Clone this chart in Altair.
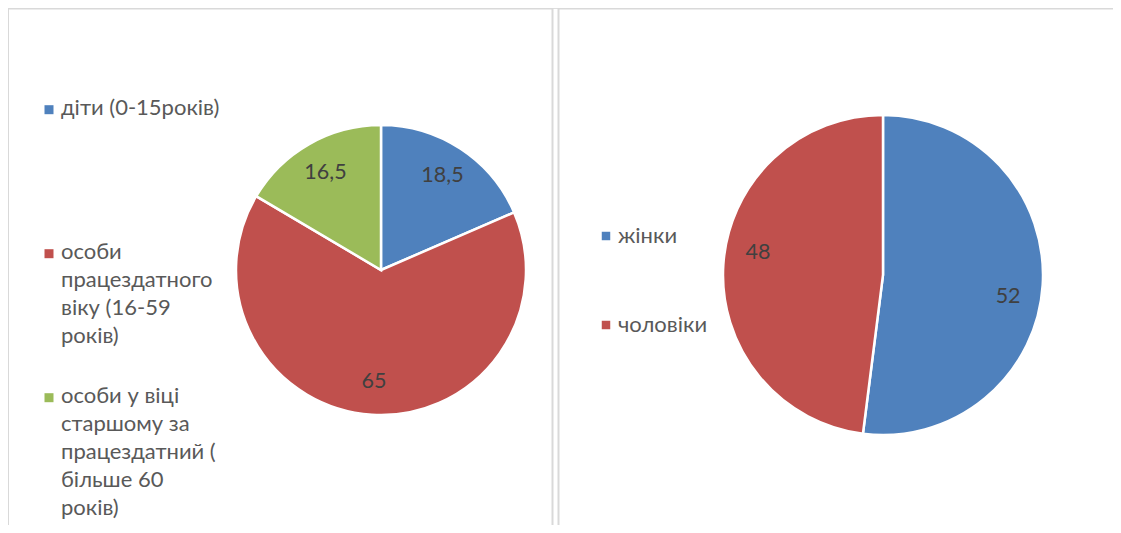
import altair as alt
import pandas as pd

# ---- data ----
age_groups = [
    "діти (0-15років)",
    "особи\nпрацездатного\nвіку (16-59\nроків)",
    "особи у віці\nстаршому за\nпрацездатний (\nбільше 60\nроків)",
]
age_values = [18.5, 65, 16.5]
age_colors = ["#4F81BD", "#C0504D", "#9BBB59"]

sex_groups = ["жінки", "чоловіки"]
sex_values = [52, 48]
sex_colors = ["#4F81BD", "#C0504D"]

FONT = "Lato"
LABEL_COLOR = "#595959"
VALUE_COLOR = "#404040"


def fmt(v):
    s = ("%g" % v)
    return s.replace(".", ",")


df_age = pd.DataFrame({
    "group": age_groups,
    "value": age_values,
    "idx": list(range(len(age_groups))),
    "label": [fmt(v) for v in age_values],
})
df_sex = pd.DataFrame({
    "group": sex_groups,
    "value": sex_values,
    "idx": list(range(len(sex_groups))),
    "label": [fmt(v) for v in sex_values],
})

frame_df = pd.DataFrame({"k": [0]})
frame_left = alt.Chart(frame_df).mark_rect(
    fillOpacity=0, stroke="#D9D9D9", strokeWidth=2
).encode(x=alt.value(0), x2=alt.value(544.5), y=alt.value(0.5), y2=alt.value(700))
frame_right = alt.Chart(frame_df).mark_rect(
    fillOpacity=0, stroke="#D9D9D9", strokeWidth=2
).encode(x=alt.value(550.5), x2=alt.value(1300), y=alt.value(0.5), y2=alt.value(700))

# square marker drawn slightly below the entry anchor so that it lines up
# with the first line of a top-aligned, multi-line label
SHIFTED_SQUARE = "M-1,1.6H1V3.6H-1Z"

# ---- pie 1 ----
leg1 = alt.Legend(
    title=None, orient="none", legendX=30, legendY=79, padding=0,
    symbolType=SHIFTED_SQUARE, symbolSize=81, symbolStrokeWidth=0,
    labelFont=FONT, labelFontSize=22, labelColor=LABEL_COLOR,
    labelExpr="split(datum.label, '\\n')", labelBaseline="top",
    labelLimit=400, labelOffset=1, gridAlign="all", rowPadding=0,
)
base1 = alt.Chart(df_age).encode(
    theta=alt.Theta("value:Q", stack=True),
    order=alt.Order("idx:Q"),
)
pie1 = base1.mark_arc(outerRadius=145, stroke="white", strokeWidth=2.5).encode(
    color=alt.Color("group:N", sort=age_groups,
                    scale=alt.Scale(domain=age_groups, range=age_colors),
                    legend=leg1),
    x=alt.value(373), y=alt.value(262),
)
text1 = base1.mark_text(radius=112, font=FONT, fontSize=21.5,
                        color=VALUE_COLOR).encode(
    detail="group:N", text="label:N", x=alt.value(373), y=alt.value(262),
)

# ---- pie 2 ----
leg2 = alt.Legend(
    title=None, orient="none", legendX=587, legendY=217, padding=0,
    symbolType="square", symbolSize=72, symbolStrokeWidth=0,
    labelFont=FONT, labelFontSize=22, labelColor=LABEL_COLOR,
    labelLimit=400, labelOffset=1, rowPadding=67,
)
base2 = alt.Chart(df_sex).encode(
    theta=alt.Theta("value:Q", stack=True),
    order=alt.Order("idx:Q"),
)
pie2 = base2.mark_arc(outerRadius=160, stroke="white", strokeWidth=2.5).encode(
    color=alt.Color("group:N", sort=sex_groups,
                    scale=alt.Scale(domain=sex_groups, range=sex_colors),
                    legend=leg2),
    x=alt.value(875), y=alt.value(267),
)
text2 = base2.mark_text(radius=127, thetaOffset=0.11, font=FONT, fontSize=21.5,
                        color=VALUE_COLOR).encode(
    detail="group:N", text="label:N", x=alt.value(875), y=alt.value(267),
)

chart = alt.layer(frame_left, frame_right, pie1, text1, pie2, text2).resolve_scale(
    color="independent", theta="independent"
).properties(
    width=1105, height=517, padding=0, autosize="none", background="white"
).configure_view(stroke=None).configure(
    style={"guide-label": {"lineHeight": 28}}
)

chart.save("out.html", embed_options={"renderer": "svg", "actions": False})
